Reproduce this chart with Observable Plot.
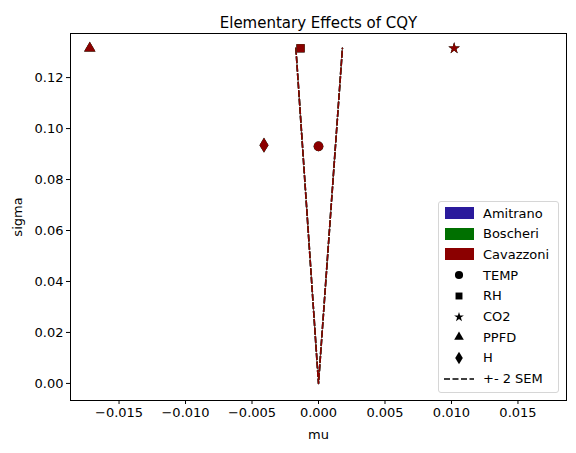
<!DOCTYPE html>
<html>
<head>
<meta charset="utf-8">
<script src="https://cdn.jsdelivr.net/npm/d3@7"></script>
<script src="https://cdn.jsdelivr.net/npm/@observablehq/plot@0.6"></script>
<style>
  body { margin: 0; background: #fff; font-family: "DejaVu Sans", sans-serif; }
  #wrap { position: relative; width: 576px; height: 453px; }
  .legend { position: absolute; left: 438px; top: 201px; width: 121px; height: 192px;
    border: 1px solid #d6d6d6; border-radius: 3px; background: rgba(255,255,255,0.8);
    font-size: 13px; color: #000; box-sizing: border-box; }
  .row { position: absolute; left: 0; height: 20px; display: flex; align-items: center; }
  .key { width: 30px; margin-left: 5px; display: flex; justify-content: center; align-items: center; }
  .row span.t { margin-left: 9px; }
</style>
</head>
<body>
<div id="wrap"></div>
<script>
// models (colors) and factors (markers)
const MODELS = ["Amitrano", "Boscheri", "Cavazzoni"];
const MODEL_COLORS = ["#2a1a9c", "#007000", "#8b0000"];
const FACTORS = ["TEMP", "RH", "CO2", "PPFD", "H"];
const MU    = [0.0, -0.00135, 0.0102, -0.0172, -0.0041];
const SIGMA = [0.093, 0.1315, 0.1315, 0.1315, 0.0935];
const SEM_X = [-0.0017, 0, 0.0018];
const SEM_Y = [0.1315, 0, 0.1315];
const X_TICKS = [-0.015, -0.01, -0.005, 0, 0.005, 0.01, 0.015];
const Y_TICKS = [0, 0.02, 0.04, 0.06, 0.08, 0.10, 0.12];

// thin diamond like matplotlib "d"
const thinDiamond = {
  draw(ctx, size) {
    const h = Math.sqrt(size) * 0.75, w = h * 0.6;
    ctx.moveTo(0, -h); ctx.lineTo(w, 0); ctx.lineTo(0, h); ctx.lineTo(-w, 0); ctx.closePath();
  }
};
const SYMBOLS = {TEMP: d3.symbolCircle, RH: d3.symbolSquare, CO2: d3.symbolStar, PPFD: d3.symbolTriangle, H: thinDiamond};
const SIZES = {TEMP: 4.8, RH: 4.6, CO2: 3.6, PPFD: 4.2, H: 5.6};

const points = MODELS.flatMap(m => FACTORS.map((f, i) => ({model: m, factor: f, mu: MU[i], sigma: SIGMA[i]})));
const sem = MODELS.flatMap(m => SEM_X.map((x, i) => ({model: m, x, y: SEM_Y[i]})));

const chart = Plot.plot({
  width: 576, height: 453,
  marginLeft: 70, marginRight: 10, marginTop: 33, marginBottom: 53,
  style: {fontFamily: "DejaVu Sans, sans-serif", fontSize: "13px", color: "#000"},
  x: {domain: [-0.01865, 0.01865]},
  y: {domain: [-0.0067, 0.1373]},
  color: {domain: MODELS, range: MODEL_COLORS},
  marks: [
    Plot.frame({stroke: "#000"}),
    Plot.axisX({ticks: X_TICKS, tickFormat: d3.format(".3f"), tickSize: 4, tickPadding: 3, label: "mu", labelAnchor: "center", labelArrow: "none", labelOffset: 38}),
    Plot.axisY({ticks: Y_TICKS, tickFormat: d3.format(".2f"), tickSize: 4, tickPadding: 3, label: "sigma", labelAnchor: "center", labelArrow: "none", labelOffset: 58}),
    Plot.line(sem, {x: "x", y: "y", z: "model", stroke: "model", strokeWidth: 1.6, strokeDasharray: "6,2.5"}),
    ...FACTORS.map(f => Plot.dot(points.filter(d => d.factor === f), {
      x: "mu", y: "sigma", fill: "model", symbol: () => SYMBOLS[f], r: SIZES[f]
    })),
    Plot.text(["Elementary Effects of CQY"], {frameAnchor: "top", dy: -16, fontSize: 15})
  ]
});
document.getElementById("wrap").appendChild(chart);

// legend
const legend = document.createElement("div");
legend.className = "legend";
const items = [
  ...MODELS.map((m, i) => ({label: m, key: `<div style="width:29px;height:12px;background:${MODEL_COLORS[i]}"></div>`})),
  ...FACTORS.map(f => ({label: f, factor: f})),
  {label: "+- 2 SEM", key: `<svg width="30" height="4"><line x1="0" x2="30" y1="2" y2="2" stroke="#000" stroke-width="1.6" stroke-dasharray="6,2.5"/></svg>`}
];
items.forEach((it, i) => {
  const row = document.createElement("div");
  row.className = "row";
  row.style.top = (1 + i * 20.7) + "px";
  let key = it.key;
  if (!key) {
    const r = SIZES[it.factor] * 0.85;
    const size = Math.PI * r * r;
    key = `<svg width="20" height="20"><path transform="translate(10,10)" d="${d3.symbol(SYMBOLS[it.factor], size)()}" fill="#000"/></svg>`;
  }
  row.innerHTML = `<div class="key">${key}</div><span class="t">${it.label}</span>`;
  legend.appendChild(row);
});
document.getElementById("wrap").appendChild(legend);
</script>
</body>
</html>
